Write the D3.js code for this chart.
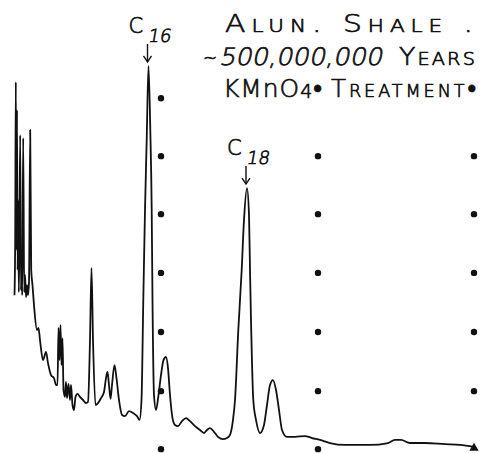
<!DOCTYPE html>
<html>
<head>
<meta charset="utf-8">
<script src="https://cdn.jsdelivr.net/npm/d3@7"></script>
<style>
  body { margin: 0; background: #fff; }
  svg { display: block; }
  text { font-family: "DejaVu Sans", sans-serif; fill: #111; stroke: #111; stroke-width: 0.7px; font-weight: 200; }
</style>
</head>
<body>
<script>
// retention time (arbitrary min) and detector response (% of C16 peak)
var time = [0.05, 0.12, 0.18, 0.25, 0.30, 0.36, 0.42, 0.48, 0.54, 0.62,
            0.70, 0.76, 0.82, 0.92, 1.02, 1.10, 1.20, 1.30, 1.40, 1.50,
            1.62, 1.72, 1.85, 2.0, 2.3,
            2.45, 2.6, 2.9, 3.2, 3.4, 3.7, 4.0, 4.2, 4.35, 4.45,
            4.55, 4.65, 4.75, 4.85, 4.95, 5.1, 5.2, 5.3, 5.45, 5.6,
            5.7, 5.85, 6.0, 6.15, 6.35, 6.6, 6.9, 7.2, 7.4, 7.6,
            7.75, 7.9, 8.15, 8.4, 8.7, 9.0, 9.2, 9.35, 9.5, 9.65,
            9.8, 10.05, 10.25, 10.5, 10.8, 11.1, 11.5, 11.9, 12.3, 12.55,
            12.75, 12.93, 13.1, 13.27, 13.45, 13.63, 13.77, 13.85, 14.0, 14.2,
            14.45, 14.7, 14.95, 15.2, 15.4, 15.6, 15.85, 16.1, 16.4, 16.8,
            17.2, 17.6, 18.1, 18.6, 19.0, 19.3, 19.6, 20.0, 20.4, 20.9,
            21.3, 21.6, 21.9, 22.1, 22.43, 22.77, 23.0, 23.3, 23.5, 23.6,
            23.7, 23.93, 24.2, 24.6, 25.0, 25.3, 25.6, 25.9, 26.2, 26.5,
            26.8, 27.3, 28.1, 29.1, 29.8, 30.6, 31.6, 33.1, 35.6, 37.4,
            38.1, 38.7, 39.6, 41.1, 43.1, 44.6, 46.0];
var signal = [39.8, 54.2, 95.3, 51.6, 88.0, 46.4, 64.6, 40.6, 54.2, 81.5,
              41.1, 49.0, 39.8, 80.7, 40.6, 45.1, 39.3, 42.4, 39.8, 43.2,
              82.8, 46.4, 42.4, 37.2, 30.7,
              31.3, 28.1, 22.9, 25.0, 22.1, 19.0, 18.2, 16.4, 16.4, 31.3,
              22.9, 32.0, 21.6, 28.6, 15.1, 13.3, 17.2, 13.0, 16.7, 12.5,
              16.4, 11.2, 9.9, 13.3, 14.1, 13.3, 12.5, 11.7, 12.0, 28.1,
              46.9, 28.1, 11.2, 11.7, 13.0, 14.6, 18.2, 19.8, 16.4, 12.8,
              16.4, 21.6, 18.2, 12.5, 8.6, 8.3, 9.6, 9.1, 8.3, 7.3,
              12.5, 38.5, 62.0, 80.2, 99.5, 82.8, 62.0, 38.5, 13.8, 9.9,
              13.8, 19.0, 22.9, 23.7, 20.8, 13.8, 7.8, 6.0, 5.7, 7.0,
              7.8, 7.0, 5.7, 4.7, 3.9, 4.7, 5.2, 4.2, 2.9, 2.3,
              2.6, 3.4, 7.3, 12.5, 30.7, 46.4, 59.4, 67.7, 60.7, 46.4,
              33.3, 12.5, 7.3, 3.9, 6.0, 11.2, 16.4, 17.7, 15.1, 9.9,
              4.7, 2.9, 2.9, 3.1, 2.6, 2.1, 1.3, 0.8, 0.8, 1.3,
              2.1, 2.1, 1.3, 1.3, 1.0, 0.8, 0.3];

// marker dots on the recorder paper
var gridTimes = [14.7, 30.4, 46.0];
var gridLevels = [91.1, 76.0, 60.9, 45.6, 30.2, 14.8, -0.3];

// labelled peaks
var peakNames = ["16", "18"];
var peakTimes = [13.45, 23.3];
var peakHeights = [99.5, 67.7];

var w = 481, h = 453;

var x = d3.scaleLinear().domain([0, 46]).range([14, 474]);
var y = d3.scaleLinear().domain([0, 100]).range([448, 64]);

var svg = d3.select("body").append("svg")
            .attr("width", w)
            .attr("height", h);

// grid dots (top row of the 2nd and 3rd columns sits in the title)
gridTimes.forEach(function (t, ci) {
  gridLevels.forEach(function (v, ri) {
    if (ri === 0 && ci > 0) return;
    if (ci === 2 && ri === gridLevels.length - 1) {
      svg.append("path")
         .attr("d", d3.symbol().type(d3.symbolTriangle).size(38)())
         .attr("transform", "translate(" + x(t) + "," + (y(v) - 1) + ")")
         .attr("fill", "#111");
      return;
    }
    svg.append("circle")
       .attr("cx", x(t))
       .attr("cy", y(v))
       .attr("r", 3.2)
       .attr("fill", "#111");
  });
});

var pts = time.map(function (t, i) { return [t, signal[i]]; });

var line = d3.line()
             .x(function (d) { return x(d[0]); })
             .y(function (d) { return y(d[1]); })
             .curve(d3.curveMonotoneX);

svg.append("path")
   .datum(pts)
   .attr("d", line)
   .attr("fill", "none")
   .attr("stroke", "#111")
   .attr("stroke-width", 1.8)
   .attr("stroke-linejoin", "round");

// peak labels with arrows
peakNames.forEach(function (n, i) {
  var px = x(peakTimes[i]), py = y(peakHeights[i]);
  svg.append("text")
     .attr("x", px - 20)
     .attr("y", py - 33)
     .attr("font-size", "21px")
     .text("C");
  svg.append("text")
     .attr("transform", "translate(" + (px - 1) + "," + (py - 24) + ") skewX(-10)")
     .attr("font-size", "18px")
     .text(n);
  svg.append("line")
     .attr("x1", px - 1).attr("x2", px - 1)
     .attr("y1", py - 22).attr("y2", py - 4)
     .attr("stroke", "#111").attr("stroke-width", 1.4);
  svg.append("path")
     .attr("d", "M" + (px - 5) + "," + (py - 10) + "L" + (px - 1) + "," + (py - 4) + "L" + (px + 3) + "," + (py - 10))
     .attr("fill", "none").attr("stroke", "#111").attr("stroke-width", 1.4);
});

// title block
svg.append("text")
   .attr("x", 225).attr("y", 32)
   .attr("font-size", "25px")
   .attr("font-variant", "small-caps")
   .attr("letter-spacing", 5)
   .attr("textLength", 254).attr("lengthAdjust", "spacingAndGlyphs")
   .text("Alun. Shale .");

svg.append("text")
   .attr("x", 203).attr("y", 64)
   .attr("font-size", "17px")
   .text("~");
svg.append("text")
   .attr("transform", "translate(219,65) skewX(-12)")
   .attr("font-size", "24px")
   .attr("textLength", 163).attr("lengthAdjust", "spacingAndGlyphs")
   .text("500,000,000");
svg.append("text")
   .attr("x", 399).attr("y", 65)
   .attr("font-size", "25px")
   .attr("font-variant", "small-caps")
   .attr("letter-spacing", 2)
   .attr("textLength", 78).attr("lengthAdjust", "spacingAndGlyphs")
   .text("Years");

var t3 = svg.append("text")
            .attr("x", 223).attr("y", 97)
            .attr("font-size", "25px")
            .attr("letter-spacing", 1)
            .attr("textLength", 100).attr("lengthAdjust", "spacingAndGlyphs");
t3.append("tspan").text("KMnO");
t3.append("tspan").attr("font-size", "19px").attr("dy", 1).text("4");
t3.append("tspan").attr("dy", -1).text("•");
svg.append("text")
   .attr("x", 331).attr("y", 97)
   .attr("font-size", "25px")
   .attr("font-variant", "small-caps")
   .attr("letter-spacing", 3)
   .attr("textLength", 148).attr("lengthAdjust", "spacingAndGlyphs")
   .text("Treatment•");
</script>
</body>
</html>
